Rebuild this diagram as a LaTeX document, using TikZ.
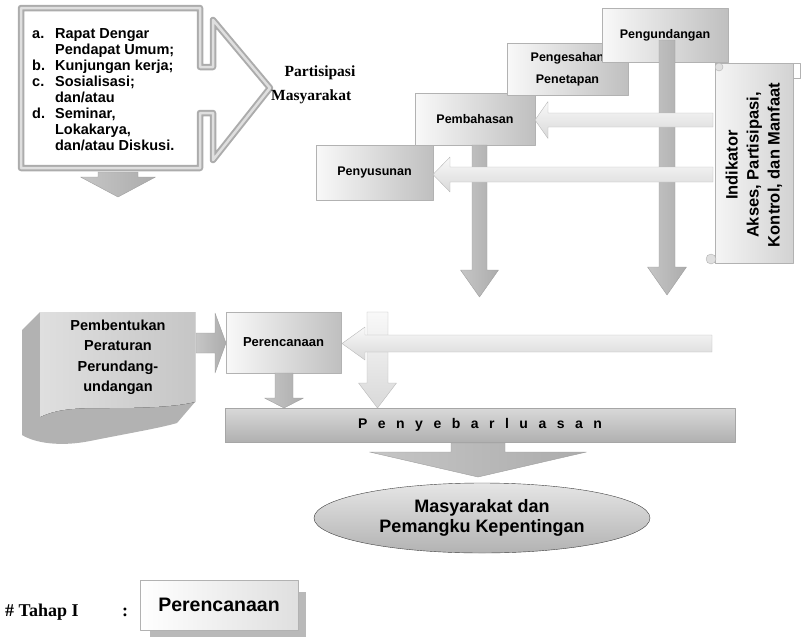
\documentclass[tikz,border=0pt]{standalone}
\usepackage{fontspec}
\setmainfont{Liberation Serif}
\setsansfont{Liberation Sans}
\usetikzlibrary{shapes.geometric}
\tikzset{
  stagebox/.style={draw=gray!60, left color=gray!5, right color=gray!50, inner sep=0pt, align=center,
    font=\sffamily\bfseries\fontsize{12.5}{16}\selectfont},
  darkarrow/.style={draw=gray!75, left color=gray!45, right color=gray!65},
  lightarrow/.style={draw=gray!55, top color=gray!5, bottom color=gray!30},
}
\begin{document}
\begin{tikzpicture}[x=1pt, y=-1pt, line join=round]
\useasboundingbox (0,0) rectangle (802,637);
% callout with the ways of participation
\draw[draw=gray!65, line width=2pt, double=gray!25, double distance=2.5pt, fill=white]
  (21,8) -- (200,8) -- (200,67) -- (213,67) -- (213,20) -- (270,88) -- (213,160)
  -- (213,113) -- (200,113) -- (200,168) -- (21,168) -- cycle;
\node[anchor=north west, inner sep=0pt, font=\sffamily\bfseries\fontsize{14.5}{16}\selectfont] (cara) at (32,27)
  {\begin{tabular}{@{}l@{\hspace{10pt}}l@{}}
   a. & Rapat Dengar\\ & Pendapat Umum;\\ b. & Kunjungan kerja;\\ c. & Sosialisasi;\\
      & dan/atau\\ d. & Seminar,\\ & Lokakarya,\\ & dan/atau Diskusi.
   \end{tabular}};
\node[inner sep=0pt, font=\bfseries\fontsize{15.5}{18}\selectfont] (partisipasi) at (320,73) {Partisipasi};
\node[anchor=west, inner sep=0pt, font=\bfseries\fontsize{15.5}{18}\selectfont] (masyarakat) at (271,97) {Masyarakat};
% stages, from Penyusunan up to Pengundangan
\node[stagebox, minimum width=117, minimum height=55] (susun) at (374.5,172.5) {Penyusunan};
\node[stagebox, minimum width=120, minimum height=52] (bahas) at (475,119) {Pembahasan};
\node[stagebox, minimum width=121, minimum height=52, font=\sffamily\bfseries\fontsize{12.5}{22}\selectfont] (sah) at (567.5,69) {Pengesahan\\Penetapan};
\node[stagebox, minimum width=126, minimum height=54] (undang) at (665,35) {Pengundangan};
% Pembentukan Peraturan Perundang-undangan
\fill[gray!60] (40,312) -- (22,330) -- (22,435) .. controls (35,443) and (60,447) .. (90,441)
  .. controls (130,433) and (160,428) .. (177,423) -- (195,402) -- (195,312) -- cycle;
\fill[left color=gray!25, right color=gray!45] (40,312) -- (195,312) -- (195,402)
  .. controls (170,408) and (130,408) .. (100,408) .. controls (70,408) and (55,410) .. (40,417) -- cycle;
\node[align=center, inner sep=0pt, font=\sffamily\bfseries\fontsize{14.5}{20.5}\selectfont] (bentuk) at (118,357.5)
  {Pembentukan\\Peraturan\\Perundang-\\undangan};
\draw[darkarrow] (196,333) -- (215,333) -- (215,313) -- (226,343) -- (215,373) -- (215,353) -- (196,353) -- cycle;
\node[stagebox, minimum width=115, minimum height=61, font=\sffamily\bfseries\fontsize{13}{16}\selectfont] (rencana) at (283.5,342.5) {Perencanaan};
\node[draw=gray!70, top color=gray!30, bottom color=gray!62, minimum width=510, minimum height=34, inner sep=0pt,
  font=\sffamily\bfseries\fontsize{14}{16}\selectfont\addfontfeatures{LetterSpace=75}] (sebar) at (480,425) {Penyebarluasan};
\node[ellipse, draw=gray!50!black, top color=gray!20, bottom color=gray!60, minimum width=336, minimum height=70,
  inner sep=0pt, align=center, font=\sffamily\bfseries\fontsize{18}{20}\selectfont] (publik) at (482,518)
  {Masyarakat dan\\Pemangku Kepentingan};
% down arrows
\foreach \cx/\ya/\yb/\yc/\s/\h in {118/172/177/197/20/37.5, 479.5/145/270/297/7.5/19,
    667/40/267/295/8/19.5, 284/373/398/408/9/19.5, 478/443/452/477/27/108.5}
  \draw[darkarrow] ({\cx-\s},\ya) -- ({\cx+\s},\ya) -- ({\cx+\s},\yb) -- ({\cx+\h},\yb)
    -- (\cx,\yc) -- ({\cx-\h},\yb) -- ({\cx-\s},\yb) -- cycle;
\draw[lightarrow] (367,312) -- (388,312) -- (388,383) -- (396.5,383) -- (377.5,408) -- (358.5,383) -- (367,383) -- cycle;
% arrows from the indicators
\foreach \xa/\xb/\xc/\cy/\s/\h in {713/548/535/120/7/18.5, 713/450/433/174.5/7.5/17.5, 712/365/342/343.5/8.5/16.5}
  \draw[lightarrow] (\xa,{\cy-\s}) -- (\xb,{\cy-\s}) -- (\xb,{\cy-\h}) -- (\xc,\cy) -- (\xb,{\cy+\h})
    -- (\xb,{\cy+\s}) -- (\xa,{\cy+\s}) -- cycle;
% scroll
\draw[gray!60] (793,63) -- (800,63) -- (800,78) -- (793,78);
\draw[draw=gray!60, left color=gray!8, right color=gray!35] (715,63) -- (793,63) -- (793,263) -- (715,263) -- cycle;
\draw[draw=gray!60, fill=gray!25] (719,67) circle (4);
\draw[draw=gray!60, fill=gray!25] (711,259) circle (5);
\node[rotate=90, align=center, inner sep=0pt, font=\sffamily\bfseries\fontsize{16.5}{21}\selectfont] (indikator) at (754,165)
  {Indikator\\Akses, Partisipasi,\\Kontrol, dan Manfaat};
% stage legend
\node[anchor=west, inner sep=0pt, font=\bfseries\fontsize{18}{20}\selectfont] (tahap) at (5,612) {\# Tahap I};
\node[inner sep=0pt, font=\bfseries\fontsize{18}{20}\selectfont] (titik) at (125,612) {:};
\fill[gray!55] (150,592) rectangle (306,637);
\node[stagebox, left color=white, right color=gray!25, minimum width=158, minimum height=50,
  font=\sffamily\bfseries\fontsize{19.5}{22}\selectfont] (legenda) at (219,605) {Perencanaan};
\end{tikzpicture}
\end{document}
